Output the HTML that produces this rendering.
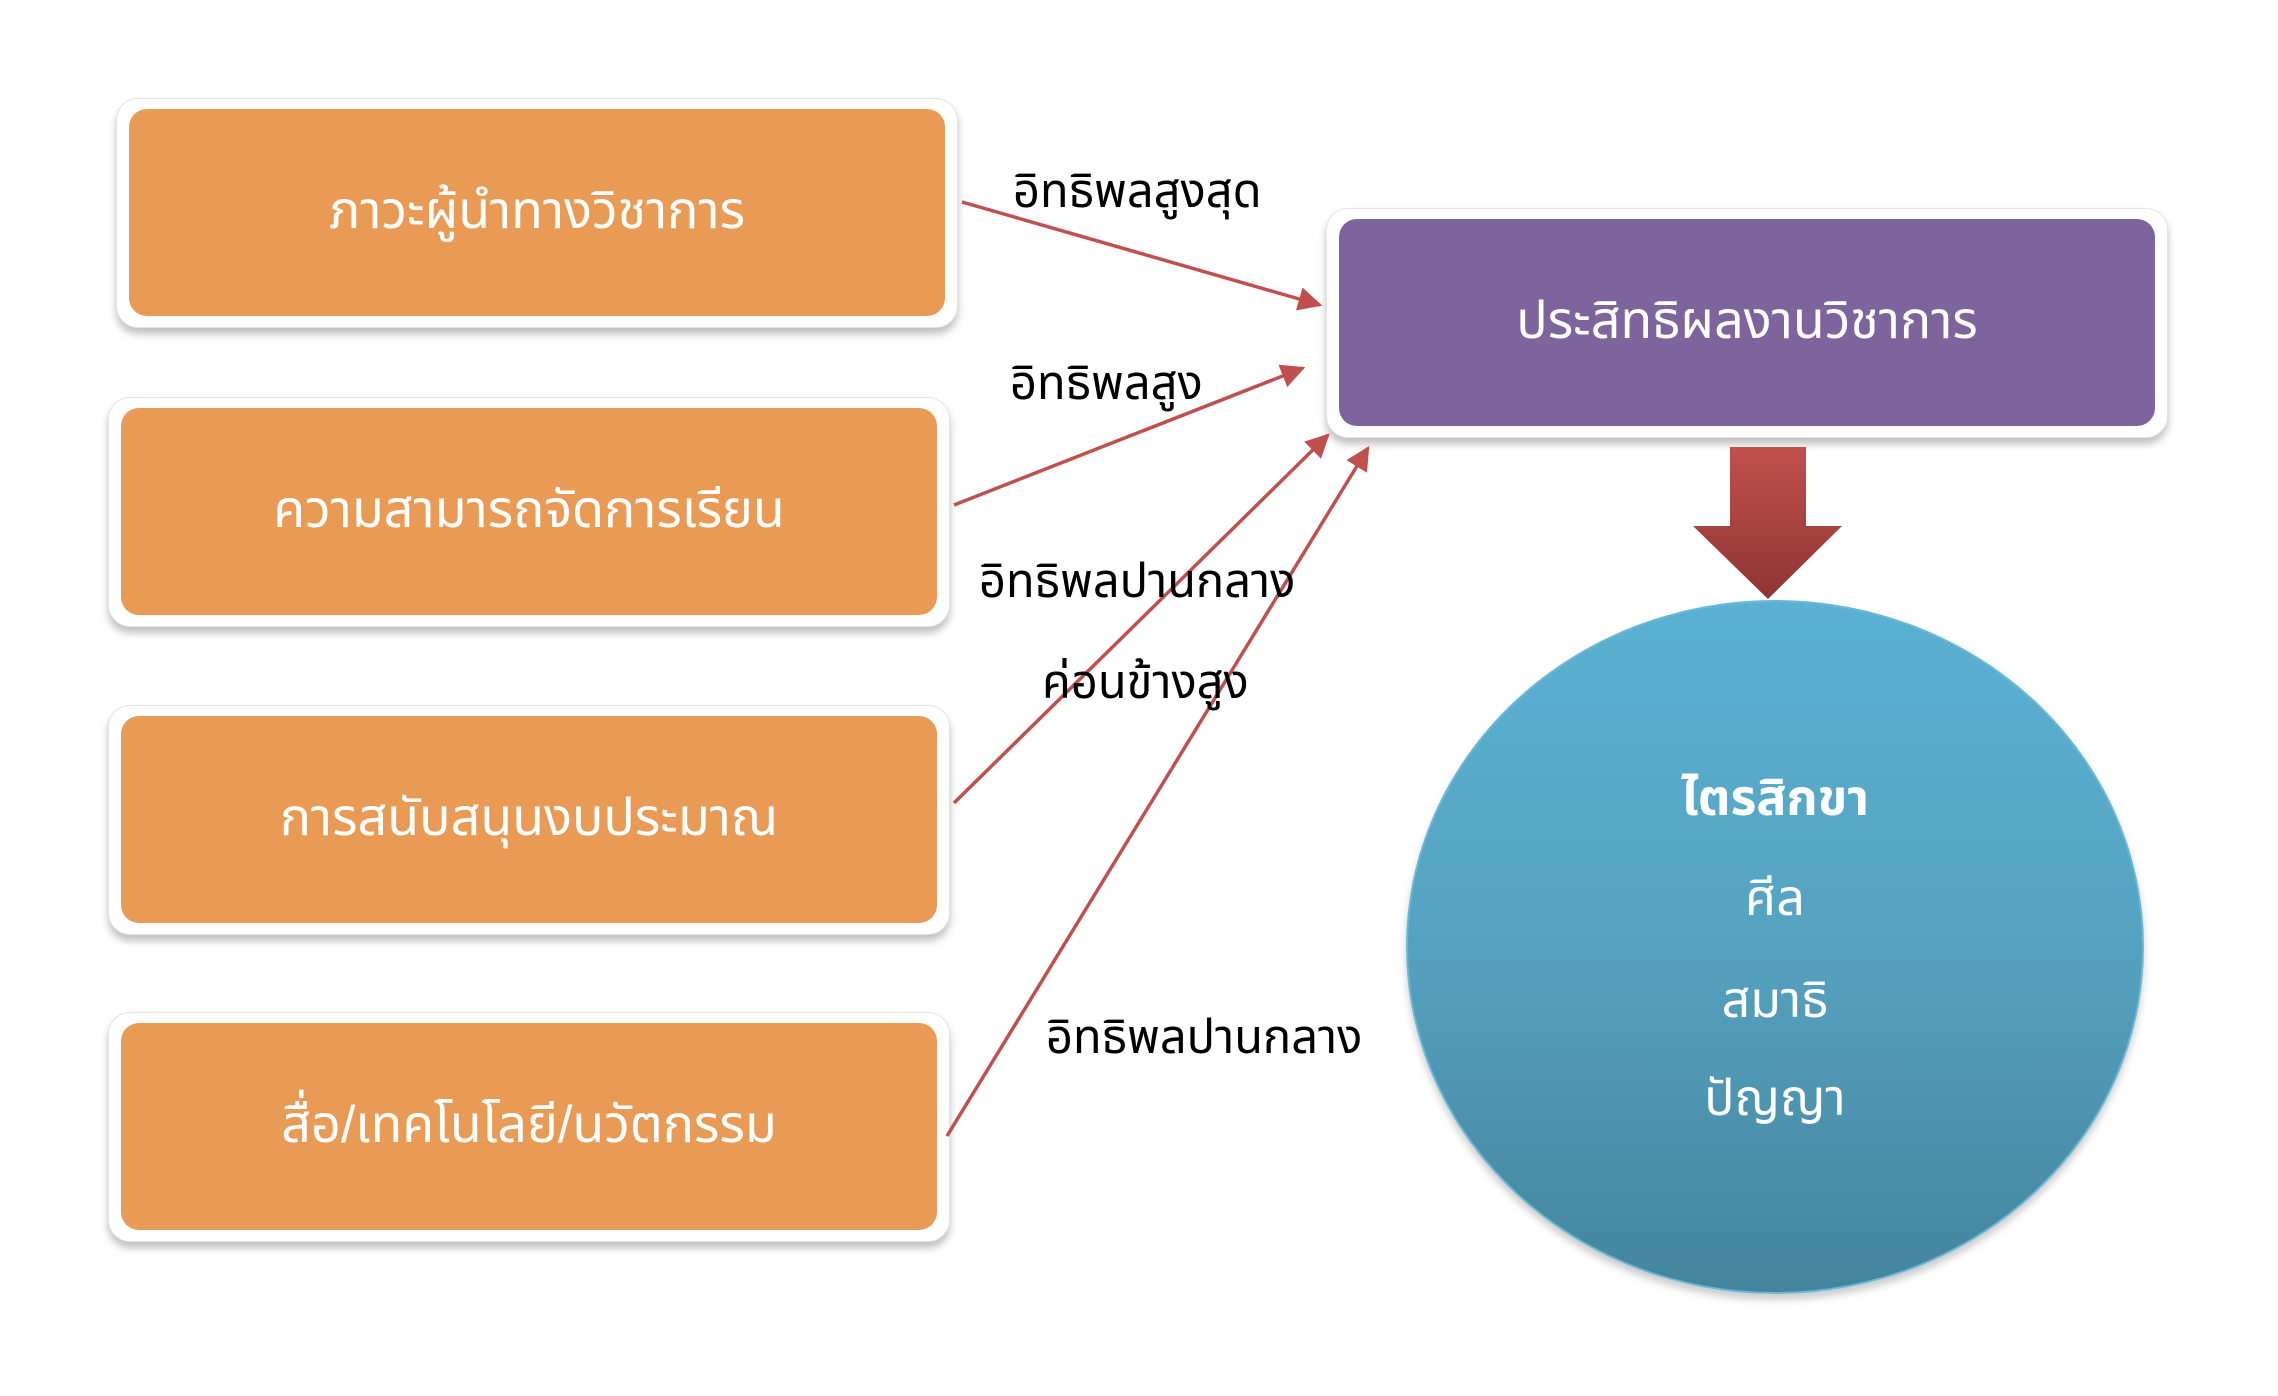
<!DOCTYPE html>
<html><head><meta charset="utf-8"><style>
body{margin:0;width:2278px;height:1396px;background:#fff;position:relative;overflow:hidden;font-family:"Liberation Sans","Noto Sans Thai","DejaVu Sans",sans-serif}
.f{position:absolute;background:#fff;border-radius:22px;box-shadow:0 6px 8px rgba(0,0,0,0.25);border:1px solid #e4e4e4}
.b{position:absolute;border-radius:18px;color:#fff;display:flex;align-items:center;justify-content:center;font-size:52px;white-space:nowrap}
.o{background:#E99B56}
.l{position:absolute;font-size:47px;color:#000;white-space:nowrap}
.c{position:absolute;left:0;width:100%;text-align:center;color:#fff;font-size:50px}
</style></head><body>
<div class="f" style="left:116px;top:98px;width:840px;height:228px"></div>
<div class="b o" style="left:129px;top:109px;width:816px;height:207px">ภาวะผู้นำทางวิชาการ</div>
<div class="f" style="left:108px;top:397px;width:840px;height:228px"></div>
<div class="b o" style="left:121px;top:408px;width:816px;height:207px">ความสามารถจัดการเรียน</div>
<div class="f" style="left:108px;top:705px;width:840px;height:228px"></div>
<div class="b o" style="left:121px;top:716px;width:816px;height:207px">การสนับสนุนงบประมาณ</div>
<div class="f" style="left:108px;top:1012px;width:840px;height:228px"></div>
<div class="b o" style="left:121px;top:1023px;width:816px;height:207px">สื่อ/เทคโนโลยี/นวัตกรรม</div>
<div class="f" style="left:1326px;top:208px;width:840px;height:228px"></div>
<div class="b" style="background:#7E649D;left:1339px;top:219px;width:816px;height:207px">ประสิทธิผลงานวิชาการ</div>
<div style="position:absolute;left:1406px;top:600px;width:734px;height:690px;border-radius:50%;background:linear-gradient(#5BB1D3,#55A2C0 50%,#44849D);border:2px solid #6ab8d6;box-shadow:0 6px 8px rgba(0,0,0,0.2)">
<div class="c" style="top:160px;font-weight:bold">ไตรสิกขา</div>
<div class="c" style="top:260px">ศีล</div>
<div class="c" style="top:362px">สมาธิ</div>
<div class="c" style="top:460px">ปัญญา</div>
</div>
<svg style="position:absolute;left:0;top:0" width="2278" height="1396">
<defs>
<marker id="m" viewBox="0 0 10 10" refX="9" refY="5" markerWidth="28" markerHeight="24" orient="auto" markerUnits="userSpaceOnUse"><path d="M0,0L10,5L0,10z" fill="#C0504D"/></marker>
<linearGradient id="g" x1="0" y1="0" x2="0" y2="1"><stop offset="0" stop-color="#C0504D"/><stop offset="1" stop-color="#8E3533"/></linearGradient></defs>
<g stroke="#C0504D" stroke-width="3.5" fill="none">
<line x1="962" y1="202" x2="1320" y2="305" marker-end="url(#m)"/>
<line x1="954" y1="505" x2="1303" y2="368" marker-end="url(#m)"/>
<line x1="954" y1="803" x2="1328" y2="435" marker-end="url(#m)"/>
<line x1="947" y1="1136" x2="1368" y2="448" marker-end="url(#m)"/>
</g>
<path d="M1730,447H1806V526H1842L1768,599L1693,526H1730Z" fill="url(#g)"/>
</svg>
<div class="l" style="left:1013px;top:158px">อิทธิพลสูงสุด</div>
<div class="l" style="left:1010px;top:350px">อิทธิพลสูง</div>
<div class="l" style="left:979px;top:548px">อิทธิพลปานกลาง</div>
<div class="l" style="left:1042px;top:649px">ค่อนข้างสูง</div>
<div class="l" style="left:1046px;top:1004px">อิทธิพลปานกลาง</div>
</body></html>
